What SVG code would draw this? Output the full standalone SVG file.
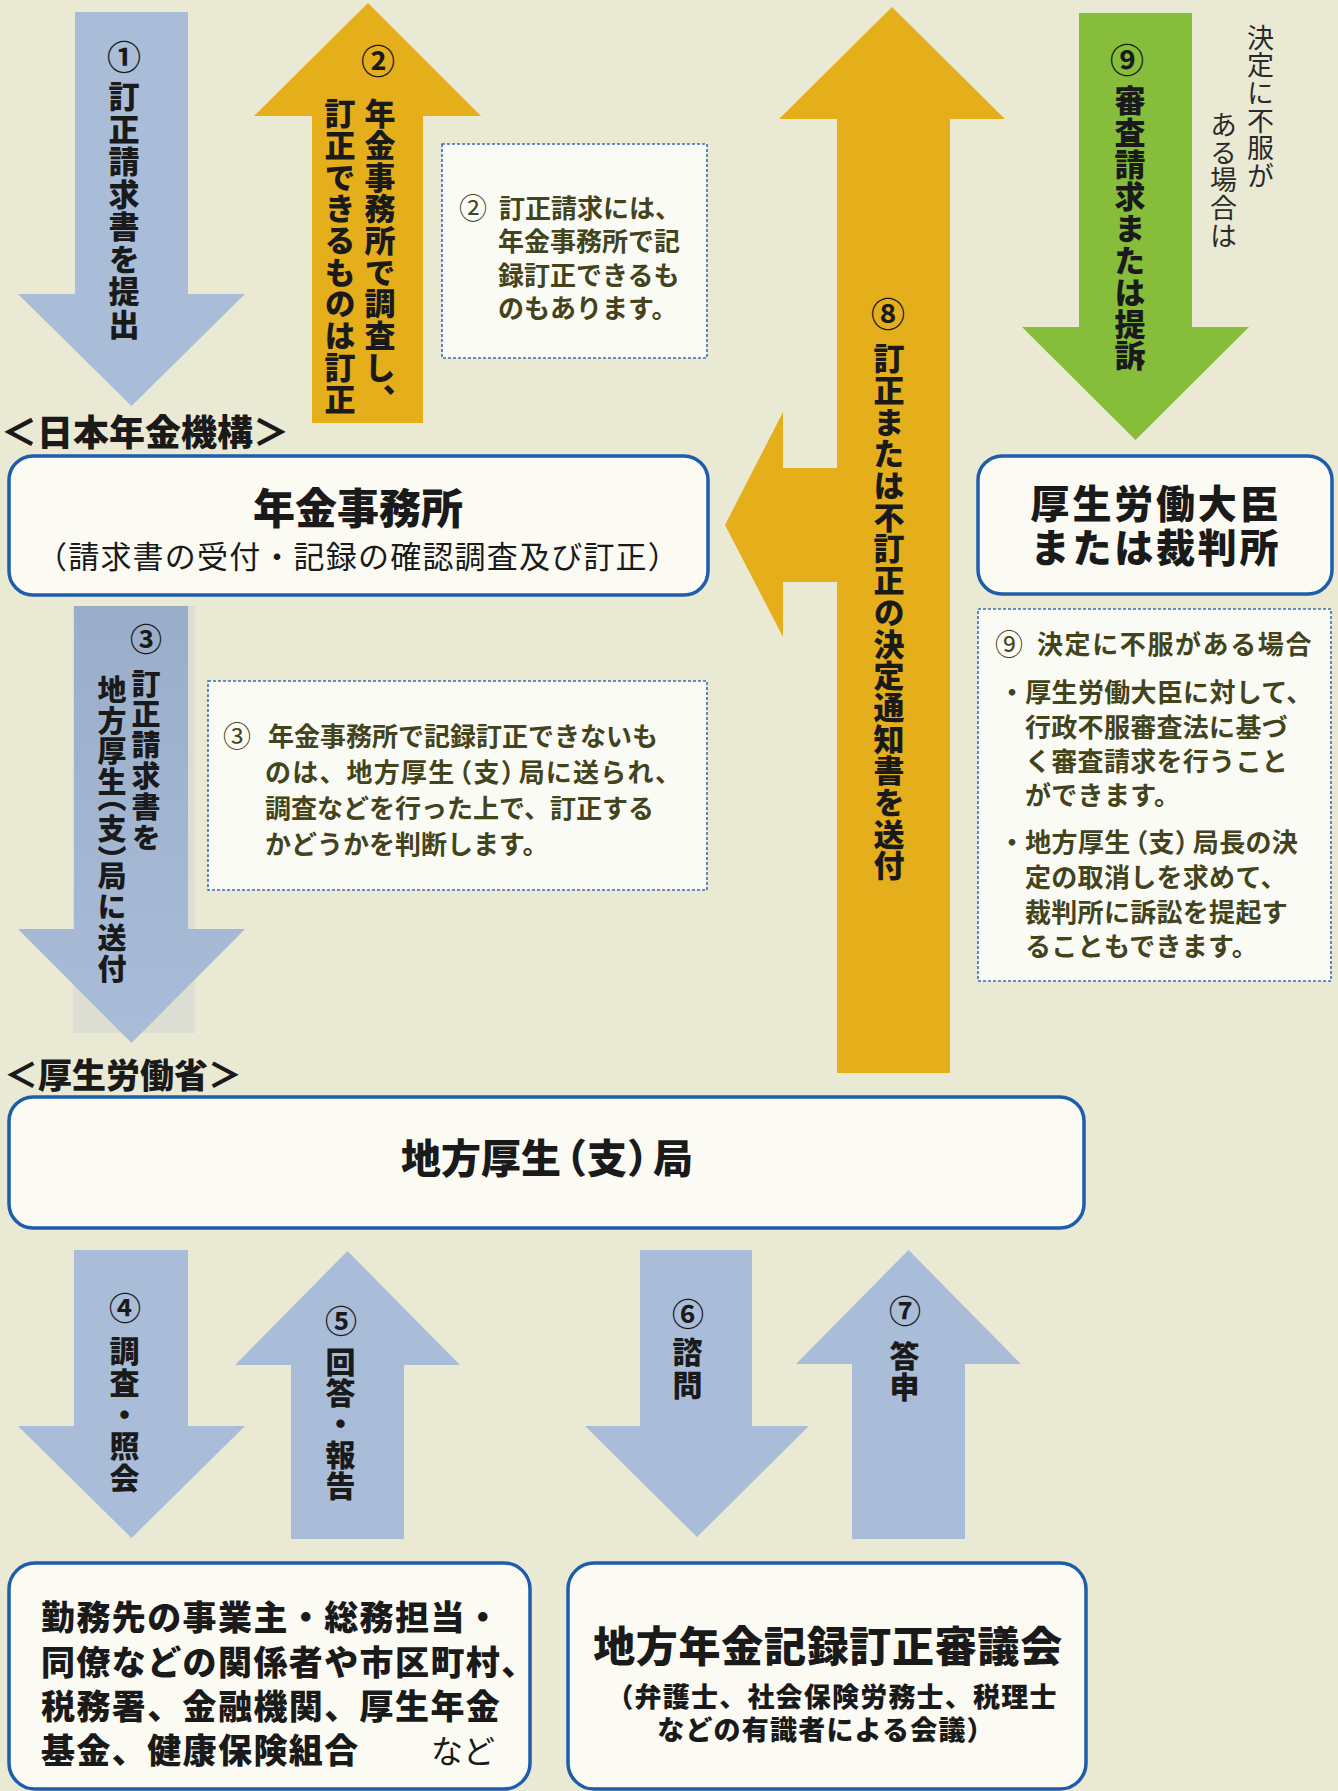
<svg xmlns="http://www.w3.org/2000/svg" width="1338" height="1791" viewBox="0 0 1338 1791">
<defs>
<style>
.t{font-family:"Liberation Sans","Noto Sans CJK JP",sans-serif;fill:#1a1a1a}
.b{font-weight:900}
.r{font-weight:400}
.m{text-anchor:middle}
.v{writing-mode:vertical-rl;font-family:"Liberation Sans","Noto Sans CJK JP",sans-serif;font-weight:900;fill:#1a1a1a}
.num{font-family:"Liberation Sans","Noto Sans CJK JP",sans-serif;font-weight:700;fill:#1a1a1a;text-anchor:middle;font-size:34px}
.note{font-family:"Liberation Sans","Noto Sans CJK JP",sans-serif;font-weight:700;fill:#43431c;font-size:26px}
.nn{font-weight:400;font-size:28px}
.node{fill:#fbfbf4;stroke:#1d5dab;stroke-width:3.5}
.dot{fill:#fbfbf5;stroke:#3b6cb8;stroke-width:1.6;stroke-dasharray:3 2}
.blue{fill:#a9bcd8}
.gold{fill:#e5ae1b}
.green{fill:#86bd3b}
</style>
<linearGradient id="g3" x1="0" y1="0" x2="0" y2="1">
<stop offset="0" stop-color="#9aaec9"/><stop offset="1" stop-color="#aabdd8"/>
</linearGradient>
</defs>
<rect width="1338" height="1791" fill="#eae9d4"/>

<g id="connectors">
  <g id="arrow1">
    <path class="blue" d="M75,12 H188 V294 H245 L131.5,406 L18,294 H75 Z"/>
    <text class="num" x="124" y="70">①</text>
    <text class="v" x="121" y="81" style="font-size:31px;letter-spacing:1.5px">訂正請求書を提出</text>
  </g>
  <g id="arrow2">
    <path class="gold" d="M368,3 L481,116 H423 V423 H312 V116 H254 Z"/>
    <text class="num" x="378" y="74">②</text>
    <text class="v" style="font-size:31px;letter-spacing:0.7px"><tspan x="377" y="98">年金事務所で調査し、</tspan><tspan x="337" y="98">訂正できるものは訂正</tspan></text>
  </g>
  <g id="arrow8">
    <path class="gold" d="M892,7 L1005,119 H950 V1073 H837 V582 H783 V637 L725,525 L783,412 V468 H837 V119 H779 Z"/>
    <text class="num" x="888" y="327">⑧</text>
    <text class="v" x="886" y="343" style="font-size:31px;letter-spacing:0.7px">訂正または不訂正の決定通知書を送付</text>
  </g>
  <g id="arrow9">
    <path class="green" d="M1079,13 H1192 V327 H1249 L1135.5,440 L1022,327 H1079 Z"/>
    <text class="num" x="1127" y="73">⑨</text>
    <text class="v" x="1127" y="85" style="font-size:31px;letter-spacing:0.9px">審査請求または提訴</text>
    <text class="v" style="font-size:27px;font-weight:400;fill:#2b2b2b;letter-spacing:0.6px"><tspan x="1258" y="24">決定に不服が</tspan><tspan x="1221" y="111">ある場合は</tspan></text>
  </g>
  <g id="arrow3">
    <rect x="73" y="606" width="122" height="427" fill="#dcddd3"/>
    <path fill="url(#g3)" d="M74,606 H188 V929 H245 L131.5,1043 L18,929 H74 Z"/>
    <text class="num" x="146" y="651" style="font-size:32px">③</text>
    <text class="v" style="font-size:29px;letter-spacing:1.8px"><tspan x="143" y="669">訂正請求書を</tspan><tspan x="109" y="675">地方厚<tspan style="letter-spacing:-12.7px">生</tspan>（支<tspan style="letter-spacing:-12.7px">）</tspan>局に送付</tspan></text>
  </g>
  <g id="arrow4">
    <path class="blue" d="M74,1250 H188 V1426 H245 L131.5,1538 L18,1426 H74 Z"/>
    <text class="num" x="125" y="1320" style="font-size:32px">④</text>
    <text class="v" x="122" y="1336" style="font-size:30px;letter-spacing:1.6px">調査・照会</text>
  </g>
  <g id="arrow5">
    <path class="blue" d="M347.5,1251 L460,1365 H404 V1539 H291 V1365 H235 Z"/>
    <text class="num" x="341" y="1333" style="font-size:32px">⑤</text>
    <text class="v" x="338" y="1347" style="font-size:30px;letter-spacing:0.8px">回答・報告</text>
  </g>
  <g id="arrow6">
    <path class="blue" d="M640,1250 H752 V1426 H809 L697,1537 L585,1426 H640 Z"/>
    <text class="num" x="688" y="1326" style="font-size:32px">⑥</text>
    <text class="v" x="685" y="1337" style="font-size:30px;letter-spacing:3px">諮問</text>
  </g>
  <g id="arrow7">
    <path class="blue" d="M908.5,1250 L1021,1364 H965 V1539 H852 V1364 H796 Z"/>
    <text class="num" x="905" y="1323" style="font-size:32px">⑦</text>
    <text class="v" x="902" y="1341" style="font-size:30px;letter-spacing:1px">答申</text>
  </g>
</g>

<g id="note2">
  <rect class="dot" x="442" y="144" width="265" height="214"/>
  <text class="note"><tspan class="nn" x="459" y="219">②</tspan><tspan x="499" y="218">訂正請求には、</tspan><tspan x="498" y="251">年金事務所で記</tspan><tspan x="498" y="285">録訂正できるも</tspan><tspan x="498" y="318">のもあります。</tspan></text>
</g>

<text id="label-kikou" class="t b" x="1" y="446" style="font-size:36px">＜日本年金機構＞</text>

<g id="nenkin-jimusho">
  <rect class="node" x="9" y="456" width="699" height="139" rx="24"/>
  <text class="t b m"><tspan x="358" y="524" style="font-size:42px">年金事務所</tspan><tspan class="r" x="358" y="568" style="font-size:31px;letter-spacing:1.2px">（請求書の受付・記録の確認調査及び訂正）</tspan></text>
</g>

<g id="daijin">
  <rect class="node" x="978" y="456" width="354" height="138" rx="24"/>
  <text class="t b m" style="font-size:39px;letter-spacing:2.8px"><tspan x="1156" y="518">厚生労働大臣</tspan><tspan x="1156" y="562">または裁判所</tspan></text>
</g>

<g id="note3">
  <rect class="dot" x="208" y="681" width="499" height="209"/>
  <text class="note"><tspan class="nn" x="223" y="747">③</tspan><tspan x="268" y="746">年金事務所で記録訂正できないも</tspan><tspan x="265" y="782" style="letter-spacing:1.2px">のは、地方厚<tspan style="letter-spacing:-8px">生</tspan>（支<tspan style="letter-spacing:-8px">）</tspan>局に送られ、</tspan><tspan x="265" y="818">調査などを行った上で、訂正する</tspan><tspan x="265" y="854">かどうかを判断します。</tspan></text>
</g>

<g id="note9">
  <rect class="dot" x="978" y="609" width="353" height="372"/>
  <text class="note" style="letter-spacing:0.3px"><tspan class="nn" x="995" y="655">⑨</tspan><tspan x="1037" y="654" style="letter-spacing:1.6px">決定に不服がある場合</tspan><tspan x="999" y="702">・厚生労働大臣に対して、</tspan><tspan x="1025" y="737">行政不服審査法に基づ</tspan><tspan x="1025" y="771">く審査請求を行うこと</tspan><tspan x="1025" y="805">ができます。</tspan><tspan x="999" y="852">・地方厚<tspan style="letter-spacing:-8px">生</tspan>（支<tspan style="letter-spacing:-8px">）</tspan>局長の決</tspan><tspan x="1025" y="887">定の取消しを求めて、</tspan><tspan x="1025" y="922">裁判所に訴訟を提起す</tspan><tspan x="1025" y="956">ることもできます。</tspan></text>
</g>

<text id="label-mhlw" class="t b" x="4" y="1088" style="font-size:34px">＜厚生労働省＞</text>

<g id="chihou-kousei">
  <rect class="node" x="9" y="1097" width="1075" height="131" rx="24"/>
  <text class="t b m" x="547" y="1173" style="font-size:40px">地方厚<tspan style="letter-spacing:-14px">生</tspan>（支<tspan style="letter-spacing:-14px">）</tspan>局</text>
</g>

<g id="kankeisha">
  <rect class="node" x="9" y="1563" width="521" height="226" rx="26"/>
  <text class="t b" style="font-size:34px;letter-spacing:1.4px"><tspan x="41" y="1630">勤務先の事業主・総務担当・</tspan><tspan x="41" y="1675">同僚などの関係者や市区町村、</tspan><tspan x="41" y="1719">税務署、金融機関、厚生年金</tspan><tspan x="41" y="1763">基金、健康保険組合</tspan><tspan class="r" x="431" y="1763" style="font-size:32px;letter-spacing:0">など</tspan></text>
</g>

<g id="shingikai">
  <rect class="node" x="568" y="1563" width="518" height="226" rx="26"/>
  <text class="t b m"><tspan x="828" y="1662" style="font-size:42px;letter-spacing:0.7px">地方年金記録訂正審議会</tspan><tspan x="832" y="1707" style="font-size:27px;letter-spacing:1.2px">（弁護士、社会保険労務士、税理士</tspan><tspan x="826" y="1740" style="font-size:27px;letter-spacing:1.2px">などの有識者による会議）</tspan></text>
</g>
</svg>
